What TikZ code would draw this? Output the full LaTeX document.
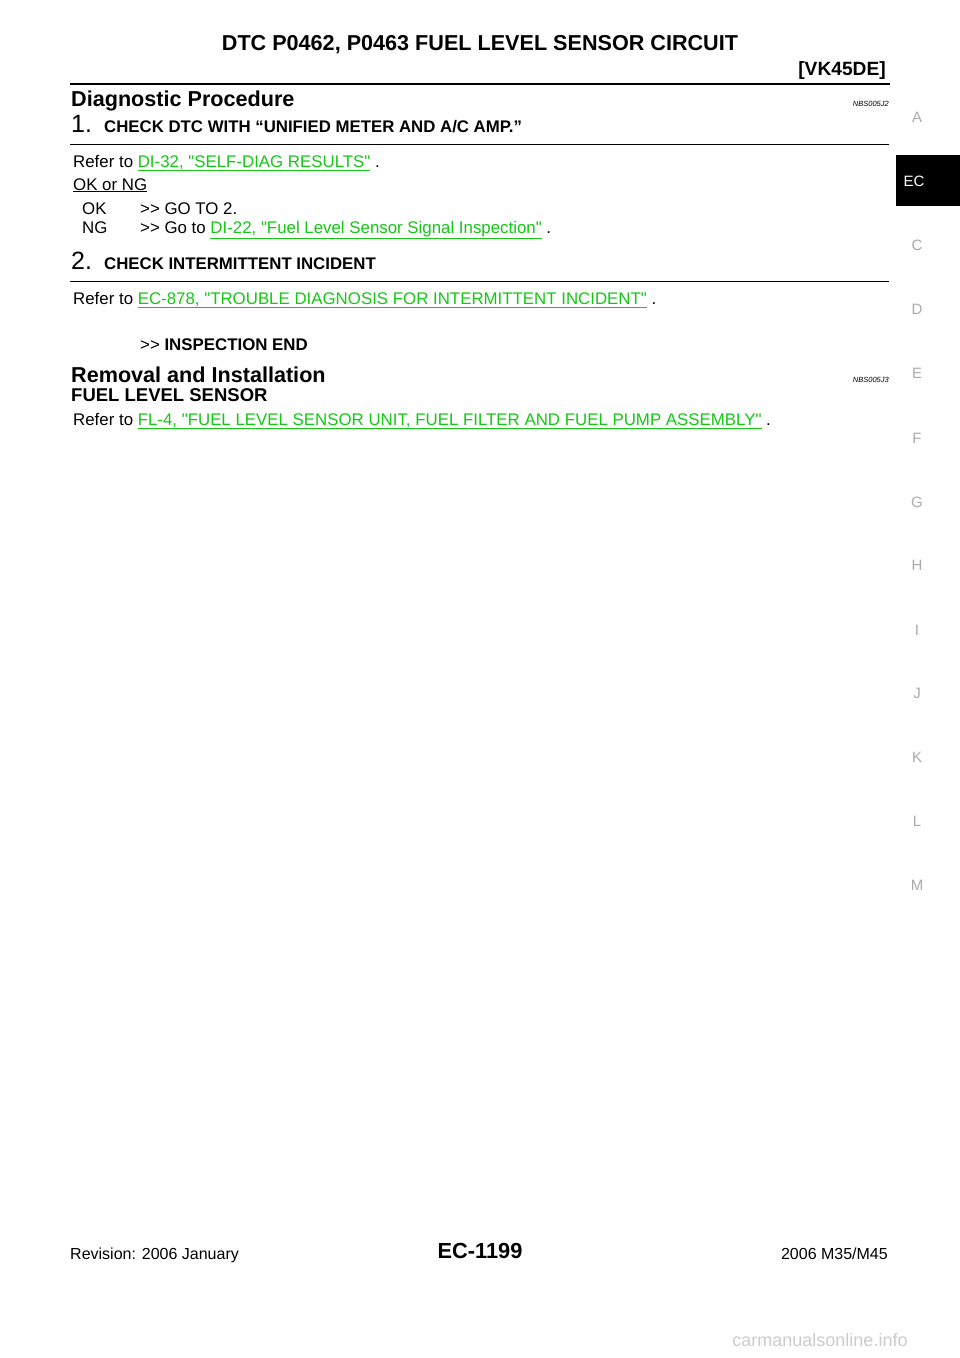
\documentclass[tikz,border=0pt]{standalone}
\usepackage{fontspec}
\setmainfont{Liberation Sans}[Ligatures=TeXOff]
\definecolor{lnk}{RGB}{20,200,20}
\definecolor{side}{RGB}{170,170,170}
\newcommand{\lk}[1]{\textcolor{lnk}{\underline{#1}}}
\begin{document}
\begin{tikzpicture}[x=1pt,y=-1pt,
  txt/.style={anchor=base west,inner sep=0,font=\fontsize{16.85}{16}\selectfont},
  hd/.style={anchor=base west,inner sep=0,font=\fontsize{21.6}{22}\selectfont\bfseries},
  sub/.style={anchor=base west,inner sep=0,font=\fontsize{16.8}{16}\selectfont\bfseries},
  num/.style={anchor=base west,inner sep=0,font=\fontsize{25}{25}\selectfont},
  code/.style={anchor=base east,inner sep=0,font=\fontsize{7.5}{7}\selectfont\itshape},
  tab/.style={inner sep=0,font=\fontsize{15}{15}\selectfont,text=side}]
\useasboundingbox (0,0) rectangle (960,1358);
\fill[white] (0,0) rectangle (960,1358);
\node[inner sep=0,font=\fontsize{21.6}{22}\selectfont\bfseries] (title) at (480,45) {DTC P0462, P0463 FUEL LEVEL SENSOR CIRCUIT};
\node[anchor=base east,inner sep=0,font=\fontsize{19.2}{19}\selectfont\bfseries] (eng) at (886,75) {[VK45DE]};
\draw[line width=2.2pt] (70,84) -- (890,84);
\node[hd] (dp) at (71,106) {Diagnostic Procedure};
\node[code] (c1) at (889,106) {NBS005J2};
\node[num] (n1) at (71,132) {1.};
\node[sub] (s1) at (104,132) {CHECK DTC WITH “UNIFIED METER AND A/C AMP.”};
\draw[line width=0.8pt] (70,144) -- (889,144);
\node[txt] (r1) at (73,167) {Refer to \lk{DI-32, "SELF-DIAG RESULTS"} .};
\node[txt] (okng) at (73,190) {\underline{OK or NG}};
\node[txt] (ok) at (82,214) {OK};
\node[txt] (okg) at (140,214) {>> GO TO 2.};
\node[txt] (ng) at (82,233) {NG};
\node[txt] (ngg) at (140,233) {>> Go to \lk{DI-22, "Fuel Level Sensor Signal Inspection"} .};
\node[num] (n2) at (71,269) {2.};
\node[sub] (s2) at (104,269) {CHECK INTERMITTENT INCIDENT};
\draw[line width=0.8pt] (70,281) -- (889,281);
\node[txt] (r2) at (73,304) {Refer to \lk{EC-878, "TROUBLE DIAGNOSIS FOR INTERMITTENT INCIDENT"} .};
\node[txt] (end) at (140,350) {>> \textbf{INSPECTION END}};
\node[hd] (ri) at (71,382) {Removal and Installation};
\node[code] (c2) at (889,382) {NBS005J3};
\node[anchor=base west,inner sep=0,font=\fontsize{18.5}{18}\selectfont\bfseries] (fls) at (71,401) {FUEL LEVEL SENSOR};
\node[txt] (r3) at (73,425) {Refer to \lk{FL-4, "FUEL LEVEL SENSOR UNIT, FUEL FILTER AND FUEL PUMP ASSEMBLY"} .};
\node[anchor=base west,inner sep=0,font=\fontsize{16}{16}\selectfont] (rev) at (70,1259) {Revision: 2006 January};
\node[inner sep=0,font=\fontsize{21.8}{22}\selectfont\bfseries] (pg) at (480,1251) {EC-1199};
\node[anchor=base east,inner sep=0,font=\fontsize{16}{16}\selectfont] (mdl) at (888,1259) {2006 M35/M45};
\fill[black] (896,155) rectangle (960,206);
\node[inner sep=0,font=\fontsize{15}{15}\selectfont,text=white] (ec) at (914,181) {EC};
\foreach \l/\yy in {A/117,C/245,D/309,E/373,F/438,G/502,H/565,I/630,J/693,K/757,L/821,M/885}
  \node[tab] (t\l) at (917,\yy) {\l};
\node[inner sep=0,font=\fontsize{18}{18}\selectfont,text=black!20] (wm) at (820,1340) {carmanualsonline.info};
\end{tikzpicture}
\end{document}
